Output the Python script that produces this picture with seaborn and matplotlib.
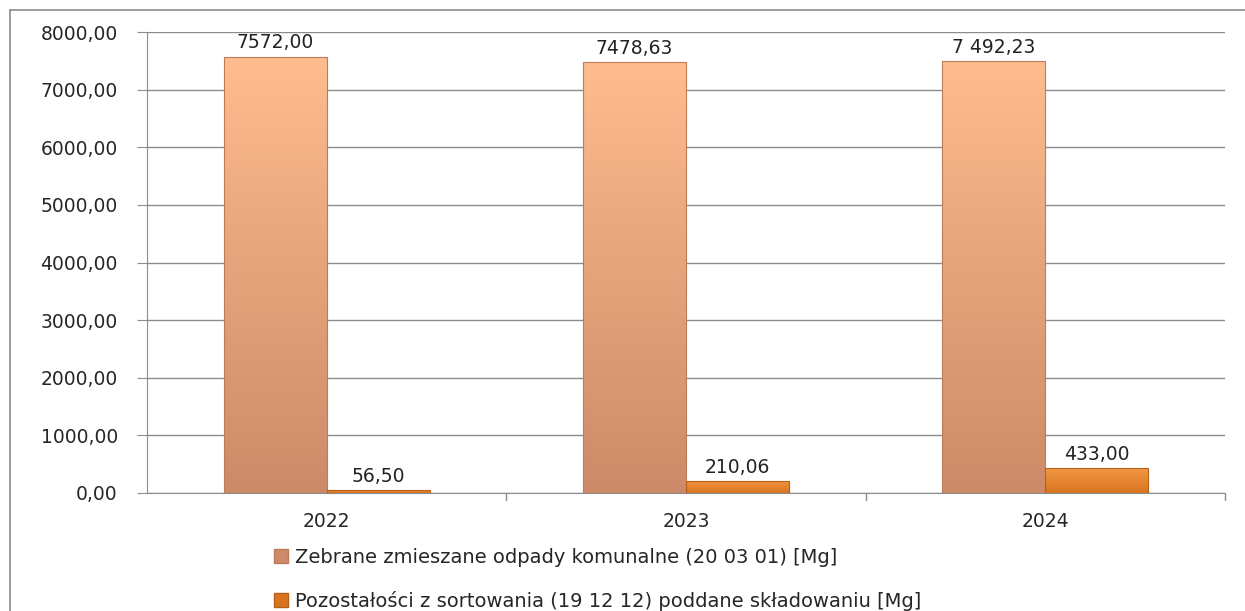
import numpy as np
import pandas as pd
import seaborn as sns
import matplotlib.pyplot as plt
from matplotlib.colors import LinearSegmentedColormap
from matplotlib.lines import Line2D
from matplotlib.patches import Patch

# dane
lata = ['2022', '2023', '2024']
serie = ['Zebrane zmieszane odpady komunalne (20 03 01) [Mg]',
         'Pozostałości z sortowania (19 12 12) poddane składowaniu [Mg]']
zebrane = [7572.00, 7478.63, 7492.23]
pozostalosci = [56.50, 210.06, 433.00]
etykiety_zebrane = ['7572,00', '7478,63', '7 492,23']
etykiety_pozostalosci = ['56,50', '210,06', '433,00']
y_ticks = [0, 1000, 2000, 3000, 4000, 5000, 6000, 7000, 8000]

df = pd.DataFrame({
    'rok': lata * 2,
    'seria': [serie[0]] * 3 + [serie[1]] * 3,
    'wartosc': zebrane + pozostalosci,
})

sns.set_style('white')
plt.rcParams['font.family'] = ['DejaVu Sans']

# kolory gradientu (góra -> dół)
gradienty = [('#FFBC8E', '#CC8A68'), ('#F39845', '#D8741F')]
krawedzie = ['#C07A58', '#B8601A']
szary = '#8C8C8C'

fig = plt.figure(figsize=(12.45, 6.11), dpi=100)
ax = fig.add_axes([147 / 1245, 1 - 493 / 611, 1078 / 1245, 461 / 611])

sns.barplot(data=df, x='rok', y='wartosc', hue='seria', order=lata,
            hue_order=serie, palette=[g[0] for g in gradienty],
            width=0.573, ax=ax, legend=False, saturation=1)

# gradient na słupkach
for i, cont in enumerate(ax.containers):
    cmap = LinearSegmentedColormap.from_list(f'g{i}', [gradienty[i][1], gradienty[i][0]])
    for bar in cont:
        x0, y0 = bar.get_x(), bar.get_y()
        w, h = bar.get_width(), bar.get_height()
        bar.set_facecolor('none')
        bar.set_edgecolor(krawedzie[i])
        bar.set_linewidth(0.8)
        grad = np.linspace(0, 1, 256).reshape(-1, 1)
        im = ax.imshow(grad, extent=[x0, x0 + w, y0, y0 + h], origin='lower',
                       aspect='auto', cmap=cmap, zorder=bar.get_zorder() - 0.1)
        im.set_clip_path(bar)

labels_all = [etykiety_zebrane, etykiety_pozostalosci]
for i, cont in enumerate(ax.containers):
    ax.bar_label(cont, labels=labels_all[i], padding=3, fontsize=13.5, color='#222222')

ax.set_xlim(-0.5, 2.5)
ax.set_ylim(0, 8000)
ax.set_yticks(y_ticks)
ax.set_yticklabels([f'{v:.2f}'.replace('.', ',') for v in y_ticks], fontsize=13.5)
ax.set_xticks(range(3))
ax.set_xticklabels(lata, fontsize=13.5)
ax.set_xlabel('')
ax.set_ylabel('')

ax.yaxis.grid(True, color=szary, linewidth=1)
ax.set_axisbelow(True)
for s in ['top', 'right']:
    ax.spines[s].set_visible(False)
ax.spines['left'].set_color(szary)
ax.spines['bottom'].set_color(szary)
ax.tick_params(axis='y', left=True, length=7, color=szary, pad=14)
ax.tick_params(axis='x', bottom=False, pad=10)

# znaczniki między kategoriami
for xb in [0.5, 1.5, 2.5]:
    ax.plot([xb, xb], [0, -0.015], transform=ax.get_xaxis_transform(),
            color=szary, lw=1, clip_on=False)

# legenda
uchwyty = [Patch(facecolor=gradienty[0][1], edgecolor=krawedzie[0]),
           Patch(facecolor=gradienty[1][1], edgecolor=krawedzie[1])]
fig.legend(uchwyty, serie, loc='upper left', bbox_to_anchor=(266 / 1245, 1 - 540 / 611),
           frameon=False, fontsize=14, handlelength=0.75, handleheight=0.75,
           handletextpad=0.35, labelspacing=1.25, borderaxespad=0)

# ramka wykresu
fig.add_artist(Line2D([10 / 1245, 1], [1 - 10 / 611, 1 - 10 / 611],
                      transform=fig.transFigure, color=szary, lw=1.2))
fig.add_artist(Line2D([10 / 1245, 10 / 1245], [0, 1 - 10 / 611],
                      transform=fig.transFigure, color=szary, lw=1.2))

fig.savefig('out.png', dpi=100)
